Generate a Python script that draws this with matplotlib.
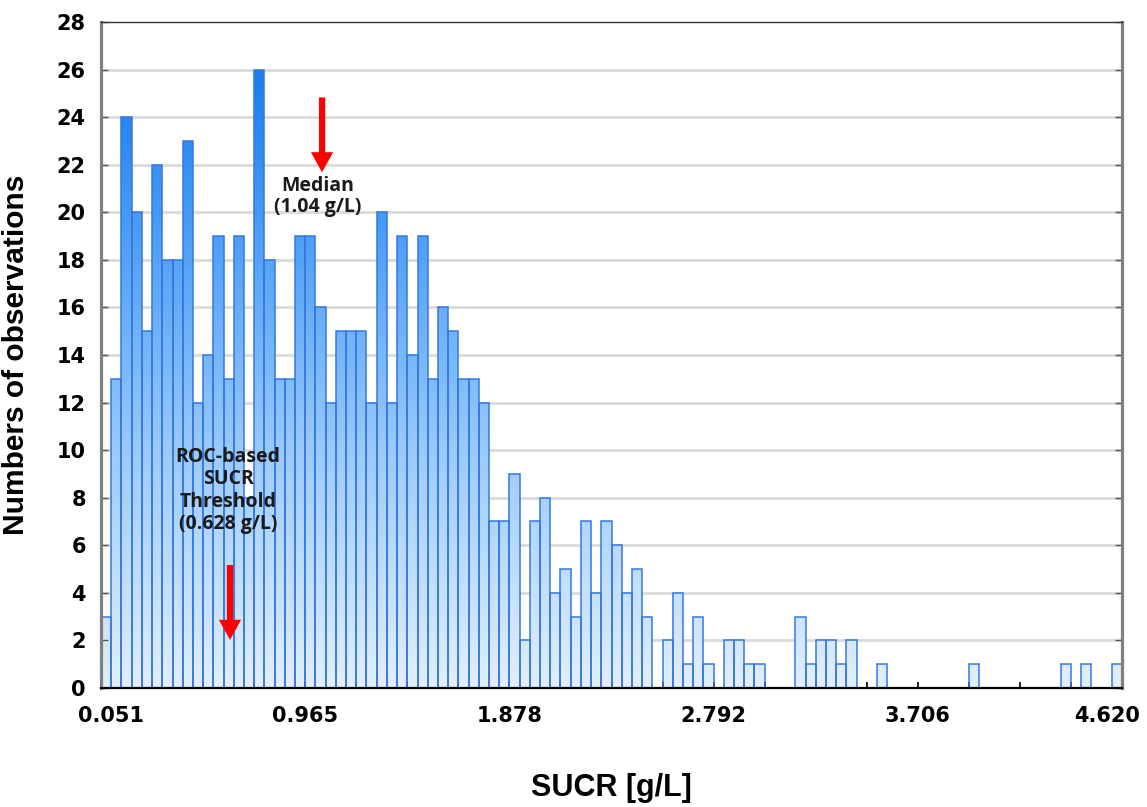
import numpy as np
import matplotlib
matplotlib.use("Agg")
import matplotlib.pyplot as plt
from matplotlib.path import Path
from matplotlib.patches import PathPatch
from matplotlib.colors import LinearSegmentedColormap
import matplotlib.transforms as mtransforms

# histogram of SUCR, 100 bins between the axis limits
sucr_min = 0.051
sucr_max = 4.620
counts = [3, 13, 24, 20, 15, 22, 18, 18, 23, 12,
          14, 19, 13, 19, 8, 26, 18, 13, 13, 19,
          19, 16, 12, 15, 15, 15, 12, 20, 12, 19,
          14, 19, 13, 16, 15, 13, 13, 12, 7, 7,
          9, 2, 7, 8, 4, 5, 3, 7, 4, 7,
          6, 4, 5, 3, 0, 2, 4, 1, 3, 1,
          0, 2, 2, 1, 1, 0, 0, 0, 3, 1,
          2, 2, 1, 2, 0, 0, 1, 0, 0, 0,
          0, 0, 0, 0, 0, 1, 0, 0, 0, 0,
          0, 0, 0, 0, 1, 0, 1, 0, 0, 1]
xtick_labels = ["0.051", "0.965", "1.878", "2.792", "3.706", "4.620"]

median_val = 1.04
threshold_val = 0.628

edges = np.linspace(sucr_min, sucr_max, len(counts) + 1)
binw = edges[1] - edges[0]

fig = plt.figure(figsize=(11.47, 8.07), dpi=100)
ax = fig.add_axes([0.0881, 0.1475, 0.8901, 0.8252])
ax.set_xlim(sucr_min, sucr_max)
ax.set_ylim(0, 28)

# grid
ax.set_yticks(np.arange(0, 29, 2))
for yv in range(2, 28, 2):
    ax.axhline(yv, color="#dadada", lw=2.0, zorder=0)

# gradient fill clipped to the bars
verts = []
codes = []
for x0, c in zip(edges[:-1], counts):
    if c == 0:
        continue
    verts += [(x0, 0), (x0 + binw, 0), (x0 + binw, c), (x0, c), (x0, 0)]
    codes += [Path.MOVETO, Path.LINETO, Path.LINETO, Path.LINETO, Path.CLOSEPOLY]
clip = PathPatch(Path(verts, codes), transform=ax.transData,
                 facecolor="none", edgecolor="none")
cmap = LinearSegmentedColormap.from_list(
    "bl", ["#e2effd", "#9fcdfb", "#50a0f6", "#0a74ec"])
grad = np.linspace(0, 1, 256).reshape(-1, 1)
im = ax.imshow(grad, cmap=cmap, aspect="auto", origin="lower",
               extent=[sucr_min, sucr_max, 0, 28], zorder=1)
im.set_clip_path(clip)

ax.bar(edges[:-1], counts, width=binw, align="edge", facecolor="none",
       edgecolor="#3578e0", lw=1.1, zorder=2)

# arrows and annotations
arrow_kw = dict(arrowstyle="simple,head_width=1.6,head_length=1.45,tail_width=0.45",
                color="#ff0000", lw=0, shrinkA=0, shrinkB=0, mutation_scale=10)
ax.annotate("", xy=(median_val, 21.68), xytext=(median_val, 24.83),
            arrowprops=arrow_kw, zorder=5)
ax.annotate("", xy=(threshold_val, 2.02), xytext=(threshold_val, 5.17),
            arrowprops=arrow_kw, zorder=5)
ax.text(1.02, 20.67, "Median\n(1.04 g/L)", ha="center", va="center",
        fontsize=14, family="Open Sans", weight="bold", color="#1a1a1a",
        linespacing=1.05, zorder=6)
ax.text(0.62, 8.3, "ROC-based\nSUCR\nThreshold\n(0.628 g/L)", ha="center",
        va="center", fontsize=14, family="Open Sans", weight="bold",
        color="#1a1a1a", linespacing=1.15, zorder=6)

# x ticks: every 5 bins, labels every 4th tick
ax.set_xticks(edges[::5])
ax.set_xticklabels([xtick_labels[i // 4] if i % 4 == 0 else "" for i in range(21)])
ax.tick_params(axis="x", direction="in", length=4, width=1.2, color="black",
               pad=13, labelsize=15)
ax.tick_params(axis="y", direction="in", length=5, width=1.0, color="#555555",
               pad=11, labelsize=15, right=True)
for lab in ax.get_xticklabels() + ax.get_yticklabels():
    lab.set_fontweight("bold")
    lab.set_family("DejaVu Sans")
xl = ax.get_xticklabels()
xl[0].set_transform(xl[0].get_transform() +
                    mtransforms.ScaledTranslation(10 / 100, 0, fig.dpi_scale_trans))
xl[-1].set_transform(xl[-1].get_transform() +
                     mtransforms.ScaledTranslation(-15 / 100, 0, fig.dpi_scale_trans))

# spines
ax.spines["left"].set_color("#808080")
ax.spines["left"].set_linewidth(2.3)
ax.spines["right"].set_color("#808080")
ax.spines["right"].set_linewidth(2.3)
ax.spines["bottom"].set_color("black")
ax.spines["bottom"].set_linewidth(1.6)
ax.spines["top"].set_color("#333333")
ax.spines["top"].set_linewidth(1.0)
for s in ax.spines.values():
    s.set_zorder(7)

ax.set_ylabel("Numbers of observations", fontsize=21.5, weight="bold",
              family="Liberation Sans")
ax.yaxis.set_label_coords(-0.0695, 0.5)
ax.set_xlabel("SUCR [g/L]", fontsize=22, weight="bold", family="Liberation Sans")
ax.xaxis.set_label_coords(0.5, -0.128)

fig.savefig("out.png", dpi=100)
